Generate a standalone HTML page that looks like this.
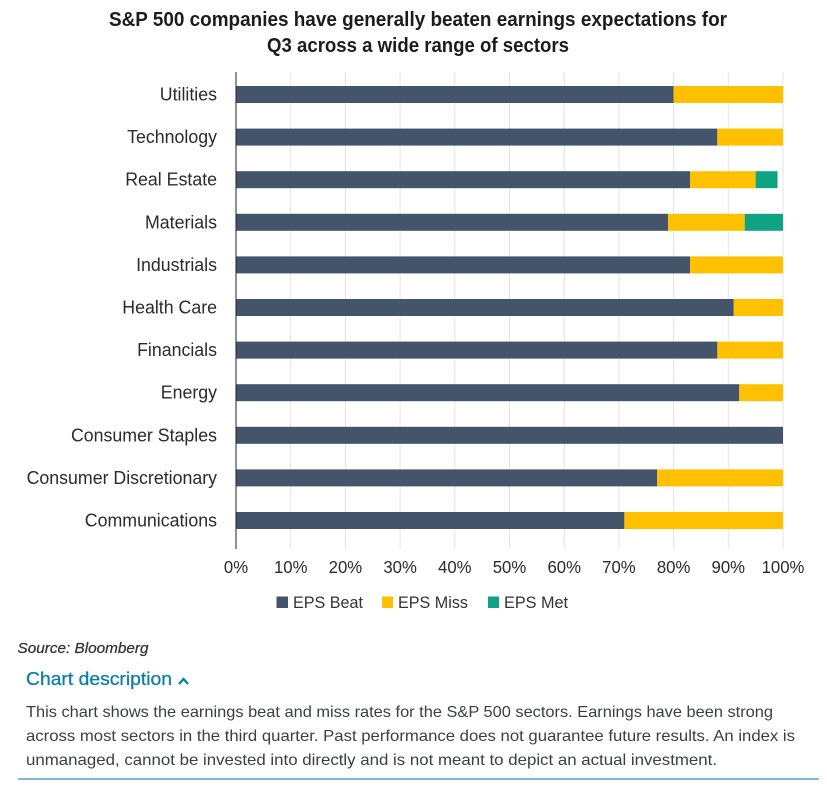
<!DOCTYPE html>
<html lang="en">
<head>
<meta charset="utf-8">
<title>S&amp;P 500 earnings beat rates by sector</title>
<style>
html,body{margin:0;padding:0;background:#fff;}
svg{display:block;font-family:"Liberation Sans",sans-serif;}
</style>
</head>
<body>
<svg id="chart" width="827" height="787" viewBox="0 0 827 787" xmlns="http://www.w3.org/2000/svg">
  <text x="418" y="26" text-anchor="middle" font-size="20" font-weight="700" fill="#1c1c1c" textLength="618" lengthAdjust="spacingAndGlyphs">S&amp;P 500 companies have generally beaten earnings expectations for</text>
  <text x="418" y="52" text-anchor="middle" font-size="20" font-weight="700" fill="#1c1c1c" textLength="302" lengthAdjust="spacingAndGlyphs">Q3 across a wide range of sectors</text>
  <g id="grid"></g>
  <g id="bars"></g>
  <g id="ylabels"></g>
  <g id="xlabels"></g>
  <line x1="236" x2="236" y1="72" y2="549" stroke="#222" stroke-width="1"/>

  <g font-size="16.5" fill="#333">
    <g>
      <rect x="276.500" y="596.500" width="11.500" height="11.500" fill="#44546a"/>
      <text x="293" y="608" textLength="70" lengthAdjust="spacingAndGlyphs">EPS Beat</text>
    </g>
    <g>
      <rect x="382" y="596.500" width="11" height="11.500" fill="#ffc000"/>
      <text x="398" y="608" textLength="70" lengthAdjust="spacingAndGlyphs">EPS Miss</text>
    </g>
    <g>
      <rect x="488" y="596.500" width="11" height="11.500" fill="#0fa384"/>
      <text x="504" y="608" textLength="64" lengthAdjust="spacingAndGlyphs">EPS Met</text>
    </g>
  </g>

  <text x="17.500" y="653" font-size="15" font-style="italic" fill="#333" stroke="#333" stroke-width="0.25" textLength="131" lengthAdjust="spacingAndGlyphs">Source: Bloomberg</text>
  <text x="26" y="685" font-size="18.500" fill="#0c7fa8" stroke="#0c7fa8" stroke-width="0.3" textLength="146" lengthAdjust="spacingAndGlyphs">Chart description</text>
  <path d="M179 684 L183.500 679 L188 684" fill="none" stroke="#0c7fa8" stroke-width="2.300"/>
  <g font-size="16" fill="#3a3f45">
    <text x="26" y="717" textLength="747" lengthAdjust="spacingAndGlyphs">This chart shows the earnings beat and miss rates for the S&amp;P 500 sectors. Earnings have been strong</text>
    <text x="26" y="741" textLength="769" lengthAdjust="spacingAndGlyphs">across most sectors in the third quarter. Past performance does not guarantee future results. An index is</text>
    <text x="26" y="765" textLength="691" lengthAdjust="spacingAndGlyphs">unmanaged, cannot be invested into directly and is not meant to depict an actual investment.</text>
  </g>
  <rect x="18" y="778" width="801" height="2" fill="#7fb9d2"/>
</svg>
<script>
const categories = ["Utilities","Technology","Real Estate","Materials","Industrials","Health Care","Financials","Energy","Consumer Staples","Consumer Discretionary","Communications"];
const epsBeat = [80,88,83,79,83,91,88,92,100,77,71];
const epsMiss = [20,12,12,14,17,9,12,8,0,23,29];
const epsMet = [0,0,4,7,0,0,0,0,0,0,0];
const xTicks = [0,10,20,30,40,50,60,70,80,90,100];

const NS = "http://www.w3.org/2000/svg";
function xScale(v){ return 236 + v * 5.47; }
function yCenter(i){ return 94.5 + i * 42.6; }
const BAR_H = 17;

const grid = document.getElementById("grid");
const xlabels = document.getElementById("xlabels");
xTicks.forEach(function(t){
  const l = document.createElementNS(NS, "line");
  
  
  l.setAttribute("x1", xScale(t));
  l.setAttribute("x2", xScale(t));
  l.setAttribute("y1", 72);
  l.setAttribute("y2", 549);
  l.setAttribute("stroke", "#e4e4e8");
  l.setAttribute("stroke-width", 1);
  grid.appendChild(l);
  const tx = document.createElementNS(NS, "text");
  
  
  tx.setAttribute("transform", "translate(" + xScale(t) + ",573) scale(0.93,1)");
  tx.setAttribute("text-anchor", "middle");
  tx.setAttribute("font-size", 18);
  tx.setAttribute("fill", "#2b2b2b");
  tx.textContent = t + "%";
  xlabels.appendChild(tx);
});

const barsG = document.getElementById("bars");
const ylabels = document.getElementById("ylabels");
function addSegment(start, value, y, color){
  if (value <= 0) return;
  const r = document.createElementNS(NS, "rect");
  
  
  r.setAttribute("x", xScale(start));
  r.setAttribute("y", y - BAR_H / 2);
  r.setAttribute("width", xScale(start + value) - xScale(start));
  r.setAttribute("height", BAR_H);
  r.setAttribute("fill", color);
  barsG.appendChild(r);
}
categories.forEach(function(c, i){
  const y = yCenter(i);
  addSegment(0, epsBeat[i], y, "#44546a");
  addSegment(epsBeat[i], epsMiss[i], y, "#ffc000");
  addSegment(epsBeat[i] + epsMiss[i], epsMet[i], y, "#0fa384");
  const tx = document.createElementNS(NS, "text");
  
  
  tx.setAttribute("transform", "translate(217," + (y + 6) + ") scale(0.96,1)");
  tx.setAttribute("text-anchor", "end");
  tx.setAttribute("font-size", 18.5);
  tx.setAttribute("fill", "#2b2b2b");
  tx.textContent = c;
  ylabels.appendChild(tx);
});
</script>
</body>
</html>
